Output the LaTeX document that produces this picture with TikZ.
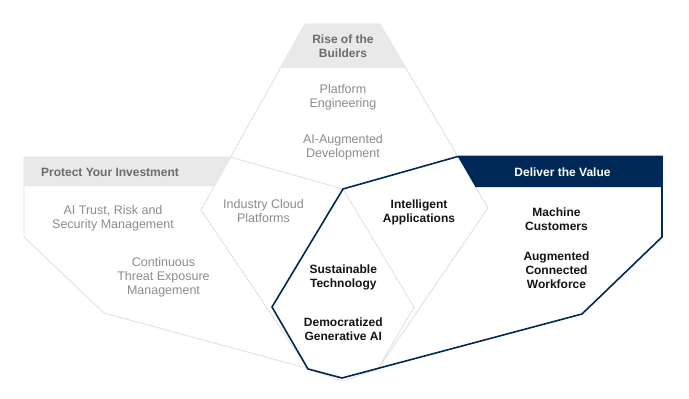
\documentclass[tikz,border=0pt]{standalone}
\usepackage{fontspec}
\setmainfont{Liberation Sans}
\definecolor{navy}{RGB}{0,40,86}
\definecolor{hdrbg}{RGB}{233,233,233}
\definecolor{hdrgray}{RGB}{108,108,108}
\definecolor{itemgray}{RGB}{140,140,140}
\definecolor{darktext}{RGB}{20,20,20}
\definecolor{faintline}{RGB}{226,226,226}
\begin{document}
\begin{tikzpicture}[x=1pt,y=-1pt,
  faint/.style={draw=faintline, line width=0.9pt, line join=round},
  navyline/.style={draw=navy, line width=1.6pt, line join=miter},
  shadowfill/.style={fill=black, opacity=0.04},
  hdr/.style={font=\fontsize{12}{14}\selectfont\bfseries, text=hdrgray, align=center, inner sep=0pt},
  hdrw/.style={font=\fontsize{12}{14}\selectfont\bfseries, text=white, align=center, inner sep=0pt},
  gitem/.style={font=\fontsize{12.5}{14}\selectfont, text=itemgray, align=center, inner sep=0pt},
  ditem/.style={font=\fontsize{12}{14}\selectfont\bfseries, text=darktext, align=center, inner sep=0pt}
]
\useasboundingbox (0,0) rectangle (689,399);
\fill[white] (0,0) rectangle (689,399);

% Builders shape
\coordinate (b1) at (305,24);
\coordinate (b2) at (380,24);
\coordinate (b3) at (488,208);
\coordinate (b4) at (378,369);
\coordinate (b5) at (343,381);
\coordinate (b6) at (308,369);
\coordinate (b7) at (201,210);
% Protect shape
\coordinate (p1) at (24,157);
\coordinate (p2) at (230,157);
\coordinate (p3) at (343,189);
\coordinate (p4) at (414,307);
\coordinate (p5) at (378,369);
\coordinate (p6) at (343,378);
\coordinate (p7) at (104,313);
\coordinate (p8) at (24,237);
% Deliver shape
\coordinate (d1) at (343,189);
\coordinate (d2) at (457.8,156.5);
\coordinate (d3) at (662,156.5);
\coordinate (d4) at (662,237);
\coordinate (d5) at (582,314);
\coordinate (d6) at (342,378);
\coordinate (d7) at (308,369);
\coordinate (d8) at (272,307);

% soft shadows
\begin{scope}[shift={(1.5,2.5)}]
\fill[shadowfill] (b1)--(b2)--(b3)--(b4)--(b5)--(b6)--(b7)--cycle;
\fill[shadowfill] (p1)--(p2)--(p3)--(p4)--(p5)--(p6)--(p7)--(p8)--cycle;
\end{scope}
\fill[white] (b1)--(b2)--(b3)--(b4)--(b5)--(b6)--(b7)--cycle;
\fill[white] (p1)--(p2)--(p3)--(p4)--(p5)--(p6)--(p7)--(p8)--cycle;
\fill[white] (d1)--(d2)--(d3)--(d4)--(d5)--(d6)--(d7)--(d8)--cycle;

% faint outlines
\draw[faint] (b1)--(b2)--(b3)--(b4)--(b5)--(b6)--(b7)--cycle;
\draw[faint] (p1)--(p2)--(p3)--(p4)--(p5)--(p6)--(p7)--(p8)--cycle;

% header bands
\fill[hdrbg] (305,24) -- (380,24) -- (405.8,68) -- (280.2,68) -- cycle;
\fill[hdrbg] (24,157) -- (229.9,157) -- (214,186) -- (24,186) -- cycle;
\fill[navy] (d2) -- (d3) -- (662,187) -- (475.5,187) -- cycle;

% deliver outline
\draw[navyline] (d1)--(d2)--(d3)--(d4)--(d5)--(d6)--(d7)--(d8)--cycle;

% texts
\node[hdr] (rise) at (343,46.5) {Rise of the\\Builders};
\node[gitem] (pe) at (343,97.5) {Platform\\Engineering};
\node[gitem] (aad) at (343,147.5) {AI-Augmented\\Development};
\node[hdr] (prot) at (110,172.5) {Protect Your Investment};
\node[gitem] (trism) at (113,218.5) {AI Trust, Risk and\\Security Management};
\node[gitem] (ctem) at (163.5,277.5) {Continuous\\Threat Exposure\\Management};
\node[gitem] (icp) at (263.5,211.5) {Industry Cloud\\Platforms};
\node[ditem] (ia) at (419,212) {Intelligent\\Applications};
\node[hdrw] (dv) at (562.5,172.5) {Deliver the Value};
\node[ditem] (mc) at (556.5,219) {Machine\\Customers};
\node[ditem] (acw) at (556.5,270.5) {Augmented\\Connected\\Workforce};
\node[ditem] (st) at (343.3,277) {Sustainable\\Technology};
\node[ditem] (dga) at (343.3,329.5) {Democratized\\Generative AI};
\end{tikzpicture}
\end{document}
